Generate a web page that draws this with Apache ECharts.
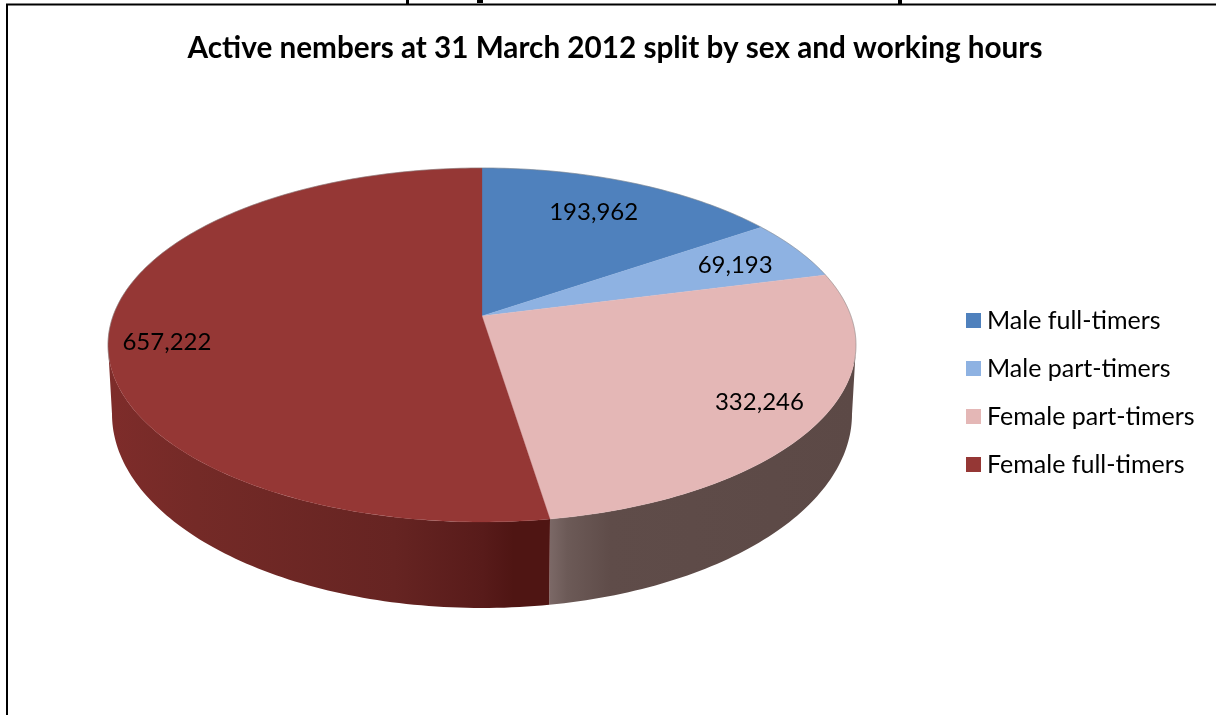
<!DOCTYPE html>
<html><head><meta charset="utf-8">
<style>html,body{margin:0;padding:0;background:#fff}#c{width:1216px;height:715px}</style>
<script src="https://cdn.jsdelivr.net/npm/echarts@6/dist/echarts.min.js"></script>
</head><body><div id="c"></div>
<script>
const categories = ['Male full-timers','Male part-timers','Female part-timers','Female full-timers'];
const values = [193962, 69193, 332246, 657222];
const chartTitle = 'Active nembers at 31 March 2012 split by sex and working hours';

const faceColors = ['#4f81bd','#8eb2e2','#e4b7b6','#953735'];
const wallStops = [
  [[0,'#5f4b48'],[1,'#5f4b48']],
  [[0,'#5f4b48'],[1,'#5f4b48']],
  [[0,'#7c6967'],[0.06,'#6c5a57'],[0.2,'#5f4c49'],[1,'#5c4946']],
  [[0,'#7e2c2a'],[0.2,'#742a27'],[0.65,'#662422'],[0.85,'#581b1a'],[0.92,'#4f1513'],[1,'#4f1513']]
];
const wallRange = [[0,1],[0,1],[549,855],[108,549]];
const topEllipse = {cx:482, cy:345, rx:374, ry:177};
const lowEllipse = {cx:482, cy:414, rx:370, ry:194};
const tilt = -0.164;
const labelPlace = [
  {r:.75,dx:-5,dy:-1},{r:.79,dx:1,dy:2},{r:.83,dx:1,dy:1},{r:.85,dx:1,dy:15}
];
const total = values.reduce((a,b)=>a+b,0);
const starts = []; values.reduce((s,v,i)=>{starts[i]=s;return s+v;},0);
const toAngle = v => v/total*360;
const frontFrom = Math.acos(tilt)*180/Math.PI, frontTo = 360-frontFrom;
function project(e, theta, r){
  const t = theta*Math.PI/180, X = r*Math.sin(t), u = -r*Math.cos(t), d = 1+tilt*u;
  return [e.cx + e.rx*Math.sqrt(1-tilt*tilt)*X/d, e.cy + e.ry*(u+tilt)/d];
}
function arc(e,a,b){
  const pts=[], n=Math.max(2,Math.ceil((b-a)/1));
  for(let i=0;i<=n;i++) pts.push(project(e,a+(b-a)*i/n,1));
  return pts;
}
function renderWall(params,api){
  const i=api.value(0);
  const a=Math.max(frontFrom,toAngle(starts[i])), b=Math.min(frontTo,toAngle(starts[i]+values[i]));
  if(b<=a) return null;
  const fill=new echarts.graphic.LinearGradient(wallRange[i][0],0,wallRange[i][1],0,
    wallStops[i].map(s=>({offset:s[0],color:s[1]})),true);
  return {type:'polygon',shape:{points:arc(topEllipse,a,b).concat(arc(lowEllipse,a,b).reverse())},style:{fill:fill}};
}
function renderFace(params,api){
  const i=api.value(0), a=toAngle(starts[i]), b=toAngle(starts[i]+values[i]);
  const edge=arc(topEllipse,a,b), apex=project(topEllipse,0,0);
  const mid=(a+b)/2, lp=labelPlace[i], p=project(topEllipse,mid,lp.r);
  const rim=edge.filter(q=>q[1]<topEllipse.cy+20);
  const kids=[{type:'polygon',shape:{points:[apex].concat(edge)},
    style:{fill:faceColors[i],stroke:faceColors[i],lineWidth:0.3}}];
  if(rim.length>1) kids.push({type:'polyline',shape:{points:rim},
    style:{fill:null,stroke:'rgba(130,130,130,0.5)',lineWidth:1}});
  kids.push({type:'text',x:p[0]+lp.dx,y:p[1]+lp.dy,z2:10,
    style:{text:values[i].toLocaleString('en-US'),fill:'#000',font:'24px Lato',align:'center',verticalAlign:'middle'}});
  return {type:'group',children:kids};
}
const series=[{type:'custom',name:'sides',coordinateSystem:'none',z:1,silent:true,
  data:categories.map((c,i)=>[i]),renderItem:renderWall}];
categories.forEach((c,i)=>series.push({type:'custom',name:c,coordinateSystem:'none',z:2,silent:true,
  itemStyle:{color:faceColors[i]},data:[[i]],renderItem:renderFace}));
const chart=echarts.init(document.getElementById('c'),null,{renderer:'canvas'});
chart.setOption({
  animation:false,backgroundColor:'#fff',
  title:{text:chartTitle,left:610,textAlign:'center',top:28,
    textStyle:{fontFamily:'Lato',fontWeight:'bold',fontSize:29.7,color:'#000'}},
  legend:{orient:'vertical',left:961,top:303,data:categories,icon:'rect',itemWidth:15,itemHeight:15,itemGap:23,
    selectedMode:false,textStyle:{fontFamily:'Lato',fontSize:25,color:'#000',padding:[0,0,0,1],lineHeight:22}},
  graphic:[
    {type:'rect',z:0,shape:{x:7,y:4.5,width:1300,height:800},style:{fill:null,stroke:'#000',lineWidth:2}},
    {type:'rect',z:0,shape:{x:406,y:0,width:3,height:4},style:{fill:'#000'}},
    {type:'rect',z:0,shape:{x:477,y:0,width:6,height:3},style:{fill:'#000'}},
    {type:'rect',z:0,shape:{x:898,y:0,width:4,height:4},style:{fill:'#000'}}
  ],
  series
});
</script></body></html>
